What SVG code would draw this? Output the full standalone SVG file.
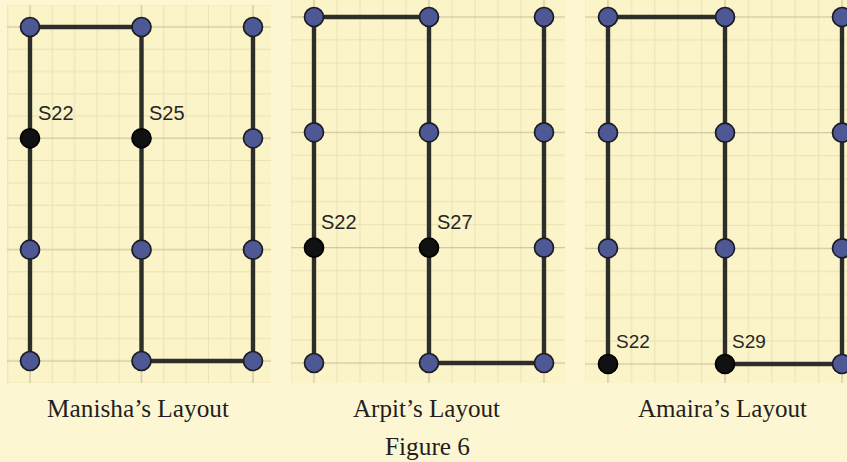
<svg xmlns="http://www.w3.org/2000/svg" width="847" height="462" viewBox="0 0 847 462">
  <style>
    .minor { stroke: #e9e0b4; stroke-width: 1; }
    .major { stroke: #cfc6a1; stroke-width: 1.3; }
    .edge { stroke: #2d2d29; stroke-width: 4.4; fill: none; stroke-linecap: butt; }
    .n { fill: #4e5894; stroke: #1c1c24; stroke-width: 1.7; }
    .b { fill: #111111; stroke: #000000; stroke-width: 1.7; }
    .lab { font-family: "Liberation Sans", Arial, sans-serif; font-size: 20px; fill: #262626; }
    .cap { font-family: "Liberation Serif", "Times New Roman", serif; font-size: 26px; fill: #231f20; text-anchor: middle; }
  </style>
  <defs>
    <pattern id="p1" patternUnits="userSpaceOnUse" x="18.85" y="15.87" width="111.5" height="111.33">
      <g class="minor">
        <line x1="33.45" y1="0" x2="33.45" y2="111.33"/>
        <line x1="55.75" y1="0" x2="55.75" y2="111.33"/>
        <line x1="78.05" y1="0" x2="78.05" y2="111.33"/>
        <line x1="100.35" y1="0" x2="100.35" y2="111.33"/>
        <line x1="0" y1="33.4" x2="111.5" y2="33.4"/>
        <line x1="0" y1="55.67" x2="111.5" y2="55.67"/>
        <line x1="0" y1="77.93" x2="111.5" y2="77.93"/>
        <line x1="0" y1="100.2" x2="111.5" y2="100.2"/>
      </g>
      <g class="major">
        <line x1="11.15" y1="0" x2="11.15" y2="111.33"/>
        <line x1="0" y1="11.13" x2="111.5" y2="11.13"/>
      </g>
    </pattern>
    <pattern id="p2" patternUnits="userSpaceOnUse" x="302.5" y="5.47" width="115" height="115.33">
      <g class="minor">
        <line x1="34.5" y1="0" x2="34.5" y2="115.33"/>
        <line x1="57.5" y1="0" x2="57.5" y2="115.33"/>
        <line x1="80.5" y1="0" x2="80.5" y2="115.33"/>
        <line x1="103.5" y1="0" x2="103.5" y2="115.33"/>
        <line x1="0" y1="34.6" x2="115" y2="34.6"/>
        <line x1="0" y1="57.67" x2="115" y2="57.67"/>
        <line x1="0" y1="80.73" x2="115" y2="80.73"/>
        <line x1="0" y1="103.8" x2="115" y2="103.8"/>
      </g>
      <g class="major">
        <line x1="11.5" y1="0" x2="11.5" y2="115.33"/>
        <line x1="0" y1="11.53" x2="115" y2="11.53"/>
      </g>
    </pattern>
    <pattern id="p3" patternUnits="userSpaceOnUse" x="596.3" y="5.43" width="117" height="115.67">
      <g class="minor">
        <line x1="35.1" y1="0" x2="35.1" y2="115.67"/>
        <line x1="58.5" y1="0" x2="58.5" y2="115.67"/>
        <line x1="81.9" y1="0" x2="81.9" y2="115.67"/>
        <line x1="105.3" y1="0" x2="105.3" y2="115.67"/>
        <line x1="0" y1="34.7" x2="117" y2="34.7"/>
        <line x1="0" y1="57.83" x2="117" y2="57.83"/>
        <line x1="0" y1="80.97" x2="117" y2="80.97"/>
        <line x1="0" y1="104.1" x2="117" y2="104.1"/>
      </g>
      <g class="major">
        <line x1="11.7" y1="0" x2="11.7" y2="115.67"/>
        <line x1="0" y1="11.57" x2="117" y2="11.57"/>
      </g>
    </pattern>
  </defs>

  <rect x="0" y="0" width="847" height="462" fill="#fdf6d3"/>

  <g id="grids">
    <rect x="7" y="5" width="264" height="378" fill="#fcf4c9"/>
    <rect x="7" y="5" width="264" height="378" fill="url(#p1)"/>
    <rect x="291" y="0" width="274" height="383" fill="#fcf4c9"/>
    <rect x="291" y="0" width="274" height="383" fill="url(#p2)"/>
    <rect x="585" y="0" width="262" height="383" fill="#fcf4c9"/>
    <rect x="585" y="0" width="262" height="383" fill="url(#p3)"/>
  </g>

  <g id="connectors" class="edge">
    <path d="M30 27 H141.5 M30 27 V361 M141.5 27 V361 M253 27 V361 M141.5 361 H253"/>
    <path d="M314 17 H429 M314 17 V363 M429 17 V363 M544 17 V363 M429 363 H544"/>
    <path d="M608 17 H725 M608 17 V364 M725 17 V364 M842 17 V364 M725 364 H842"/>
  </g>

  <!-- Manisha -->
  <g id="m-r1c1"><circle class="n" cx="30" cy="27" r="9.5"/></g>
  <g id="m-r1c2"><circle class="n" cx="141.5" cy="27" r="9.5"/></g>
  <g id="m-r1c3"><circle class="n" cx="253" cy="27" r="9.5"/></g>
  <g id="m-S22"><circle class="b" cx="30" cy="138.3" r="9.5"/><text class="lab" x="38" y="120">S22</text></g>
  <g id="m-S25"><circle class="b" cx="141.5" cy="138.3" r="9.5"/><text class="lab" x="149" y="120">S25</text></g>
  <g id="m-r2c3"><circle class="n" cx="253" cy="138.3" r="9.5"/></g>
  <g id="m-r3c1"><circle class="n" cx="30" cy="249.7" r="9.5"/></g>
  <g id="m-r3c2"><circle class="n" cx="141.5" cy="249.7" r="9.5"/></g>
  <g id="m-r3c3"><circle class="n" cx="253" cy="249.7" r="9.5"/></g>
  <g id="m-r4c1"><circle class="n" cx="30" cy="361" r="9.5"/></g>
  <g id="m-r4c2"><circle class="n" cx="141.5" cy="361" r="9.5"/></g>
  <g id="m-r4c3"><circle class="n" cx="253" cy="361" r="9.5"/></g>

  <!-- Arpit -->
  <g id="a-r1c1"><circle class="n" cx="314" cy="17" r="9.5"/></g>
  <g id="a-r1c2"><circle class="n" cx="429" cy="17" r="9.5"/></g>
  <g id="a-r1c3"><circle class="n" cx="544" cy="17" r="9.5"/></g>
  <g id="a-r2c1"><circle class="n" cx="314" cy="132.3" r="9.5"/></g>
  <g id="a-r2c2"><circle class="n" cx="429" cy="132.3" r="9.5"/></g>
  <g id="a-r2c3"><circle class="n" cx="544" cy="132.3" r="9.5"/></g>
  <g id="a-S22"><circle class="b" cx="314" cy="247.7" r="9.5"/><text class="lab" x="321" y="229">S22</text></g>
  <g id="a-S27"><circle class="b" cx="429" cy="247.7" r="9.5"/><text class="lab" x="437" y="229">S27</text></g>
  <g id="a-r3c3"><circle class="n" cx="544" cy="247.7" r="9.5"/></g>
  <g id="a-r4c1"><circle class="n" cx="314" cy="363" r="9.5"/></g>
  <g id="a-r4c2"><circle class="n" cx="429" cy="363" r="9.5"/></g>
  <g id="a-r4c3"><circle class="n" cx="544" cy="363" r="9.5"/></g>

  <!-- Amaira -->
  <g id="am-r1c1"><circle class="n" cx="608" cy="17" r="9.5"/></g>
  <g id="am-r1c2"><circle class="n" cx="725" cy="17" r="9.5"/></g>
  <g id="am-r1c3"><circle class="n" cx="842" cy="17" r="9.5"/></g>
  <g id="am-r2c1"><circle class="n" cx="608" cy="132.7" r="9.5"/></g>
  <g id="am-r2c2"><circle class="n" cx="725" cy="132.7" r="9.5"/></g>
  <g id="am-r2c3"><circle class="n" cx="842" cy="132.7" r="9.5"/></g>
  <g id="am-r3c1"><circle class="n" cx="608" cy="248.3" r="9.5"/></g>
  <g id="am-r3c2"><circle class="n" cx="725" cy="248.3" r="9.5"/></g>
  <g id="am-r3c3"><circle class="n" cx="842" cy="248.3" r="9.5"/></g>
  <g id="am-S22"><circle class="b" cx="608" cy="364" r="9.5"/><text class="lab" x="616" y="348" style="font-size:19px">S22</text></g>
  <g id="am-S29"><circle class="b" cx="725" cy="364" r="9.5"/><text class="lab" x="732" y="348" style="font-size:19px">S29</text></g>
  <g id="am-r4c3"><circle class="n" cx="842" cy="364" r="9.5"/></g>

  <g id="captions">
    <text class="cap" x="138" y="417" textLength="182" lengthAdjust="spacingAndGlyphs">Manisha’s Layout</text>
    <text class="cap" x="426.5" y="417" textLength="147" lengthAdjust="spacingAndGlyphs">Arpit’s Layout</text>
    <text class="cap" x="722.5" y="417" textLength="169" lengthAdjust="spacingAndGlyphs">Amaira’s Layout</text>
    <text class="cap" x="427.5" y="455" textLength="85" lengthAdjust="spacingAndGlyphs">Figure 6</text>
  </g>
</svg>
